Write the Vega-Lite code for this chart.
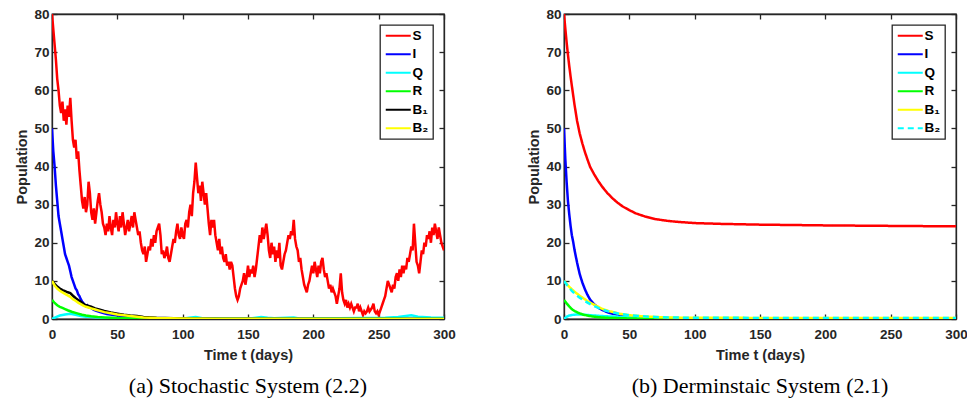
{
"$schema": "https://vega.github.io/schema/vega-lite/v6.json",
"background": "white",
"padding": {"left": 14, "top": 6, "right": 2, "bottom": 0},
"spacing": 120,
"bounds": "flush",
"config": {
  "view": {"stroke": "#262626", "strokeWidth": 1.3},
  "font": "Liberation Sans",
  "axis": {"grid": false, "labelFlush": false, "domainColor": "#262626", "domainWidth": 1.3, "tickColor": "#262626", "tickWidth": 1.3, "tickSize": -5,
    "labelFont": "Liberation Sans", "labelFontWeight": "bold", "labelFontSize": 13.5, "labelColor": "#262626",
    "titleFont": "Liberation Sans", "titleFontWeight": "bold", "titleFontSize": 14.5, "titleColor": "#262626"},
  "axisX": {"labelPadding": 13, "titlePadding": 8},
  "axisY": {"labelPadding": 8, "titlePadding": 4},
  "legend": {"orient": "top-right", "offset": 11, "strokeColor": "#262626", "strokeWidth": 1.3, "fillColor": "white", "padding": 4,
    "symbolType": "M-1,0H4", "symbolSize": 100, "symbolStrokeWidth": 2, "labelFont": "Liberation Sans", "labelFontWeight": "bold",
    "labelFontSize": 13.5, "labelColor": "#000000", "labelOffset": 15, "rowPadding": 3.5},
  "title": {"font": "Liberation Serif", "fontSize": 22, "fontWeight": "normal", "color": "#000000", "orient": "bottom", "offset": 14, "anchor": "middle"}
},
"datasets": {
"stoch": [
{"s":"S","t":0,"v":80},{"s":"S","t":1,"v":76},{"s":"S","t":2,"v":72},{"s":"S","t":3,"v":68},{"s":"S","t":4,"v":63},{"s":"S","t":5,"v":60},{"s":"S","t":6,"v":56},{"s":"S","t":7,"v":54},{"s":"S","t":8,"v":57},{"s":"S","t":9,"v":52},
{"s":"S","t":10,"v":55},{"s":"S","t":11,"v":51},{"s":"S","t":12,"v":56},{"s":"S","t":13,"v":53},{"s":"S","t":14,"v":58},{"s":"S","t":15,"v":52},{"s":"S","t":16,"v":47},{"s":"S","t":17,"v":45},{"s":"S","t":18,"v":47},{"s":"S","t":19,"v":42},
{"s":"S","t":20,"v":44},{"s":"S","t":21,"v":39},{"s":"S","t":22,"v":35},{"s":"S","t":23,"v":31},{"s":"S","t":24,"v":29},{"s":"S","t":25,"v":32},{"s":"S","t":26,"v":28},{"s":"S","t":27,"v":30},{"s":"S","t":28,"v":36},{"s":"S","t":29,"v":33},
{"s":"S","t":30,"v":28},{"s":"S","t":31,"v":26},{"s":"S","t":32,"v":29},{"s":"S","t":33,"v":25},{"s":"S","t":34,"v":28},{"s":"S","t":35,"v":31},{"s":"S","t":36,"v":33},{"s":"S","t":37,"v":30},{"s":"S","t":38,"v":28},{"s":"S","t":39,"v":25},
{"s":"S","t":40,"v":24},{"s":"S","t":41,"v":22},{"s":"S","t":42,"v":25},{"s":"S","t":43,"v":23},{"s":"S","t":44,"v":27},{"s":"S","t":45,"v":24},{"s":"S","t":46,"v":22},{"s":"S","t":47,"v":26},{"s":"S","t":48,"v":24},{"s":"S","t":49,"v":28},
{"s":"S","t":50,"v":25},{"s":"S","t":51,"v":23},{"s":"S","t":52,"v":27},{"s":"S","t":53,"v":24},{"s":"S","t":54,"v":28},{"s":"S","t":55,"v":25},{"s":"S","t":56,"v":22},{"s":"S","t":57,"v":24},{"s":"S","t":58,"v":26},{"s":"S","t":59,"v":23},
{"s":"S","t":60,"v":25},{"s":"S","t":61,"v":27},{"s":"S","t":62,"v":24},{"s":"S","t":63,"v":28},{"s":"S","t":64,"v":26},{"s":"S","t":65,"v":24},{"s":"S","t":66,"v":22},{"s":"S","t":67,"v":23},{"s":"S","t":68,"v":20},{"s":"S","t":69,"v":18},
{"s":"S","t":70,"v":17},{"s":"S","t":71,"v":19},{"s":"S","t":72,"v":15},{"s":"S","t":73,"v":17},{"s":"S","t":74,"v":19},{"s":"S","t":75,"v":18},{"s":"S","t":76,"v":21},{"s":"S","t":77,"v":19},{"s":"S","t":78,"v":22},{"s":"S","t":79,"v":20},
{"s":"S","t":80,"v":23},{"s":"S","t":81,"v":24},{"s":"S","t":82,"v":25},{"s":"S","t":83,"v":22},{"s":"S","t":84,"v":17},{"s":"S","t":85,"v":18},{"s":"S","t":86,"v":16},{"s":"S","t":87,"v":17},{"s":"S","t":88,"v":19},{"s":"S","t":89,"v":16},
{"s":"S","t":90,"v":15},{"s":"S","t":91,"v":17},{"s":"S","t":92,"v":19},{"s":"S","t":93,"v":21},{"s":"S","t":94,"v":20},{"s":"S","t":95,"v":23},{"s":"S","t":96,"v":25},{"s":"S","t":97,"v":22},{"s":"S","t":98,"v":21},{"s":"S","t":99,"v":24},
{"s":"S","t":100,"v":22},{"s":"S","t":101,"v":21},{"s":"S","t":102,"v":25},{"s":"S","t":103,"v":26},{"s":"S","t":104,"v":24},{"s":"S","t":105,"v":28},{"s":"S","t":106,"v":30},{"s":"S","t":107,"v":27},{"s":"S","t":108,"v":33},{"s":"S","t":109,"v":36},
{"s":"S","t":110,"v":41},{"s":"S","t":111,"v":37},{"s":"S","t":112,"v":33},{"s":"S","t":113,"v":35},{"s":"S","t":114,"v":31},{"s":"S","t":115,"v":36},{"s":"S","t":116,"v":33},{"s":"S","t":117,"v":30},{"s":"S","t":118,"v":33},{"s":"S","t":119,"v":29},
{"s":"S","t":120,"v":25},{"s":"S","t":121,"v":22},{"s":"S","t":122,"v":26},{"s":"S","t":123,"v":24},{"s":"S","t":124,"v":26},{"s":"S","t":125,"v":22},{"s":"S","t":126,"v":20},{"s":"S","t":127,"v":18},{"s":"S","t":128,"v":21},{"s":"S","t":129,"v":17},
{"s":"S","t":130,"v":19},{"s":"S","t":131,"v":16},{"s":"S","t":132,"v":15},{"s":"S","t":133,"v":17},{"s":"S","t":134,"v":14},{"s":"S","t":135,"v":15},{"s":"S","t":136,"v":13},{"s":"S","t":137,"v":15},{"s":"S","t":138,"v":14},{"s":"S","t":139,"v":11},
{"s":"S","t":140,"v":8},{"s":"S","t":141,"v":6},{"s":"S","t":142,"v":5},{"s":"S","t":143,"v":6},{"s":"S","t":144,"v":8},{"s":"S","t":145,"v":9},{"s":"S","t":146,"v":10},{"s":"S","t":147,"v":12},{"s":"S","t":148,"v":9},{"s":"S","t":149,"v":11},
{"s":"S","t":150,"v":14},{"s":"S","t":151,"v":11},{"s":"S","t":152,"v":13},{"s":"S","t":153,"v":12},{"s":"S","t":154,"v":14},{"s":"S","t":155,"v":11},{"s":"S","t":156,"v":13},{"s":"S","t":157,"v":16},{"s":"S","t":158,"v":19},{"s":"S","t":159,"v":22},
{"s":"S","t":160,"v":20},{"s":"S","t":161,"v":24},{"s":"S","t":162,"v":21},{"s":"S","t":163,"v":23},{"s":"S","t":164,"v":25},{"s":"S","t":165,"v":22},{"s":"S","t":166,"v":18},{"s":"S","t":167,"v":16},{"s":"S","t":168,"v":20},{"s":"S","t":169,"v":17},
{"s":"S","t":170,"v":19},{"s":"S","t":171,"v":15},{"s":"S","t":172,"v":18},{"s":"S","t":173,"v":16},{"s":"S","t":174,"v":20},{"s":"S","t":175,"v":14},{"s":"S","t":176,"v":13},{"s":"S","t":177,"v":15},{"s":"S","t":178,"v":17},{"s":"S","t":179,"v":18},
{"s":"S","t":180,"v":20},{"s":"S","t":181,"v":22},{"s":"S","t":182,"v":21},{"s":"S","t":183,"v":23},{"s":"S","t":184,"v":22},{"s":"S","t":185,"v":26},{"s":"S","t":186,"v":21},{"s":"S","t":187,"v":19},{"s":"S","t":188,"v":18},{"s":"S","t":189,"v":15},
{"s":"S","t":190,"v":16},{"s":"S","t":191,"v":13},{"s":"S","t":192,"v":11},{"s":"S","t":193,"v":9},{"s":"S","t":194,"v":8},{"s":"S","t":195,"v":7},{"s":"S","t":196,"v":9},{"s":"S","t":197,"v":10},{"s":"S","t":198,"v":12},{"s":"S","t":199,"v":14},
{"s":"S","t":200,"v":12},{"s":"S","t":201,"v":15},{"s":"S","t":202,"v":13},{"s":"S","t":203,"v":11},{"s":"S","t":204,"v":14},{"s":"S","t":205,"v":12},{"s":"S","t":206,"v":15},{"s":"S","t":207,"v":16},{"s":"S","t":208,"v":13},{"s":"S","t":209,"v":11},
{"s":"S","t":210,"v":12},{"s":"S","t":211,"v":10},{"s":"S","t":212,"v":8},{"s":"S","t":213,"v":9},{"s":"S","t":214,"v":7},{"s":"S","t":215,"v":8},{"s":"S","t":216,"v":7},{"s":"S","t":217,"v":6},{"s":"S","t":218,"v":4},{"s":"S","t":219,"v":6},
{"s":"S","t":220,"v":8},{"s":"S","t":221,"v":12},{"s":"S","t":222,"v":7},{"s":"S","t":223,"v":5},{"s":"S","t":224,"v":4},{"s":"S","t":225,"v":5},{"s":"S","t":226,"v":3},{"s":"S","t":227,"v":4},{"s":"S","t":228,"v":3},{"s":"S","t":229,"v":4},
{"s":"S","t":230,"v":3},{"s":"S","t":231,"v":2},{"s":"S","t":232,"v":3},{"s":"S","t":233,"v":3},{"s":"S","t":234,"v":4},{"s":"S","t":235,"v":2},{"s":"S","t":236,"v":3},{"s":"S","t":237,"v":2},{"s":"S","t":238,"v":1},{"s":"S","t":239,"v":2},
{"s":"S","t":240,"v":1.5},{"s":"S","t":241,"v":2},{"s":"S","t":242,"v":3},{"s":"S","t":243,"v":2},{"s":"S","t":244,"v":2.5},{"s":"S","t":245,"v":3},{"s":"S","t":246,"v":4},{"s":"S","t":247,"v":2},{"s":"S","t":248,"v":1.5},{"s":"S","t":249,"v":2},
{"s":"S","t":250,"v":1},{"s":"S","t":251,"v":2},{"s":"S","t":252,"v":3},{"s":"S","t":253,"v":4},{"s":"S","t":254,"v":5},{"s":"S","t":255,"v":6},{"s":"S","t":256,"v":8},{"s":"S","t":257,"v":10},{"s":"S","t":258,"v":9},{"s":"S","t":259,"v":8},
{"s":"S","t":260,"v":7},{"s":"S","t":261,"v":9},{"s":"S","t":262,"v":8},{"s":"S","t":263,"v":11},{"s":"S","t":264,"v":12},{"s":"S","t":265,"v":10},{"s":"S","t":266,"v":13},{"s":"S","t":267,"v":11},{"s":"S","t":268,"v":14},{"s":"S","t":269,"v":12},
{"s":"S","t":270,"v":14},{"s":"S","t":271,"v":13},{"s":"S","t":272,"v":16},{"s":"S","t":273,"v":15},{"s":"S","t":274,"v":17},{"s":"S","t":275,"v":19},{"s":"S","t":276,"v":18},{"s":"S","t":277,"v":25},{"s":"S","t":278,"v":20},{"s":"S","t":279,"v":15},
{"s":"S","t":280,"v":14},{"s":"S","t":281,"v":12},{"s":"S","t":282,"v":15},{"s":"S","t":283,"v":18},{"s":"S","t":284,"v":17},{"s":"S","t":285,"v":20},{"s":"S","t":286,"v":19},{"s":"S","t":287,"v":22},{"s":"S","t":288,"v":21},{"s":"S","t":289,"v":23},
{"s":"S","t":290,"v":20},{"s":"S","t":291,"v":24},{"s":"S","t":292,"v":22},{"s":"S","t":293,"v":25},{"s":"S","t":294,"v":23},{"s":"S","t":295,"v":21},{"s":"S","t":296,"v":24},{"s":"S","t":297,"v":22},{"s":"S","t":298,"v":20},{"s":"S","t":299,"v":19},
{"s":"S","t":300,"v":18},
{"s":"I","t":0,"v":50},{"s":"I","t":1,"v":44},{"s":"I","t":2,"v":40},{"s":"I","t":3,"v":35},{"s":"I","t":4,"v":31},{"s":"I","t":5,"v":27},{"s":"I","t":6,"v":25},{"s":"I","t":7,"v":23},{"s":"I","t":8,"v":21},{"s":"I","t":9,"v":19},
{"s":"I","t":10,"v":17},{"s":"I","t":11,"v":16},{"s":"I","t":12,"v":15},{"s":"I","t":13,"v":14},{"s":"I","t":14,"v":12.5},{"s":"I","t":15,"v":11},{"s":"I","t":16,"v":10},{"s":"I","t":17,"v":9},{"s":"I","t":18,"v":8},{"s":"I","t":19,"v":7.5},
{"s":"I","t":20,"v":6.5},{"s":"I","t":21,"v":6},{"s":"I","t":22,"v":5.2},{"s":"I","t":23,"v":4.6},{"s":"I","t":24,"v":4.2},{"s":"I","t":25,"v":3.6},{"s":"I","t":26,"v":3.3},{"s":"I","t":27,"v":3.6},{"s":"I","t":28,"v":3.1},{"s":"I","t":30,"v":2.9},
{"s":"I","t":32,"v":2.4},{"s":"I","t":35,"v":2.0},{"s":"I","t":38,"v":1.7},{"s":"I","t":42,"v":1.3},{"s":"I","t":46,"v":1.1},{"s":"I","t":50,"v":0.9},{"s":"I","t":55,"v":0.7},{"s":"I","t":60,"v":0.5},{"s":"I","t":70,"v":0.3},{"s":"I","t":80,"v":0.2},
{"s":"I","t":100,"v":0.1},{"s":"I","t":150,"v":0.05},{"s":"I","t":200,"v":0},{"s":"I","t":300,"v":0},
{"s":"Q","t":0,"v":0},{"s":"Q","t":3,"v":0.5},{"s":"Q","t":6,"v":0.9},{"s":"Q","t":10,"v":1.2},{"s":"Q","t":14,"v":1.4},{"s":"Q","t":18,"v":1.1},{"s":"Q","t":22,"v":0.8},{"s":"Q","t":26,"v":0.6},{"s":"Q","t":30,"v":0.5},{"s":"Q","t":35,"v":0.4},
{"s":"Q","t":40,"v":0.3},{"s":"Q","t":50,"v":0.2},{"s":"Q","t":60,"v":0.15},{"s":"Q","t":80,"v":0.1},{"s":"Q","t":100,"v":0.1},{"s":"Q","t":105,"v":0.3},{"s":"Q","t":110,"v":0.5},{"s":"Q","t":115,"v":0.2},{"s":"Q","t":150,"v":0.1},{"s":"Q","t":160,"v":0.5},
{"s":"Q","t":165,"v":0.3},{"s":"Q","t":170,"v":0.2},{"s":"Q","t":185,"v":0.4},{"s":"Q","t":190,"v":0.1},{"s":"Q","t":220,"v":0.2},{"s":"Q","t":255,"v":0.3},{"s":"Q","t":265,"v":0.5},{"s":"Q","t":275,"v":1.0},{"s":"Q","t":280,"v":0.6},{"s":"Q","t":290,"v":0.4},
{"s":"Q","t":300,"v":0.3},
{"s":"R","t":0,"v":5},{"s":"R","t":2,"v":4.2},{"s":"R","t":4,"v":3.6},{"s":"R","t":6,"v":3.2},{"s":"R","t":8,"v":2.9},{"s":"R","t":10,"v":2.6},{"s":"R","t":12,"v":2.3},{"s":"R","t":15,"v":1.9},{"s":"R","t":18,"v":1.6},{"s":"R","t":20,"v":1.4},
{"s":"R","t":23,"v":1.1},{"s":"R","t":26,"v":0.9},{"s":"R","t":30,"v":0.7},{"s":"R","t":35,"v":0.5},{"s":"R","t":40,"v":0.4},{"s":"R","t":50,"v":0.25},{"s":"R","t":60,"v":0.15},{"s":"R","t":80,"v":0.08},{"s":"R","t":120,"v":0.03},{"s":"R","t":300,"v":0},
{"s":"B₁","t":0,"v":10},{"s":"B₁","t":2,"v":9.2},{"s":"B₁","t":4,"v":8.5},{"s":"B₁","t":6,"v":8},{"s":"B₁","t":8,"v":7.6},{"s":"B₁","t":10,"v":7.3},{"s":"B₁","t":12,"v":7},{"s":"B₁","t":14,"v":6.8},{"s":"B₁","t":16,"v":6.1},{"s":"B₁","t":18,"v":5.5},
{"s":"B₁","t":20,"v":5},{"s":"B₁","t":22,"v":4.5},{"s":"B₁","t":24,"v":4},{"s":"B₁","t":26,"v":3.6},{"s":"B₁","t":28,"v":3.4},{"s":"B₁","t":30,"v":3.2},{"s":"B₁","t":33,"v":2.8},{"s":"B₁","t":36,"v":2.5},{"s":"B₁","t":40,"v":2.1},{"s":"B₁","t":45,"v":1.7},
{"s":"B₁","t":50,"v":1.4},{"s":"B₁","t":55,"v":1.1},{"s":"B₁","t":60,"v":0.9},{"s":"B₁","t":65,"v":0.8},{"s":"B₁","t":70,"v":0.5},{"s":"B₁","t":80,"v":0.3},{"s":"B₁","t":100,"v":0.15},{"s":"B₁","t":130,"v":0.05},{"s":"B₁","t":300,"v":0},
{"s":"B₂","t":0,"v":10},{"s":"B₂","t":2,"v":8.8},{"s":"B₂","t":4,"v":8},{"s":"B₂","t":6,"v":7.4},{"s":"B₂","t":8,"v":7},{"s":"B₂","t":10,"v":6.6},{"s":"B₂","t":12,"v":6.2},{"s":"B₂","t":14,"v":5.8},{"s":"B₂","t":16,"v":5.2},{"s":"B₂","t":18,"v":4.8},
{"s":"B₂","t":20,"v":4.3},{"s":"B₂","t":22,"v":3.9},{"s":"B₂","t":24,"v":3.5},{"s":"B₂","t":26,"v":3.2},{"s":"B₂","t":28,"v":3},{"s":"B₂","t":30,"v":2.8},{"s":"B₂","t":33,"v":2.5},{"s":"B₂","t":36,"v":2.2},{"s":"B₂","t":40,"v":1.8},{"s":"B₂","t":45,"v":1.5},
{"s":"B₂","t":50,"v":1.2},{"s":"B₂","t":55,"v":1},{"s":"B₂","t":60,"v":0.8},{"s":"B₂","t":65,"v":0.6},{"s":"B₂","t":70,"v":0.4},{"s":"B₂","t":80,"v":0.25},{"s":"B₂","t":100,"v":0.12},{"s":"B₂","t":125,"v":0.05},{"s":"B₂","t":300,"v":0}
],
"det": [
{"s":"S","t":0,"v":80},{"s":"S","t":1,"v":76.2},{"s":"S","t":2,"v":72.6},{"s":"S","t":3,"v":69.4},{"s":"S","t":4,"v":66.4},{"s":"S","t":5,"v":63.7},{"s":"S","t":6,"v":61.2},{"s":"S","t":8,"v":56.3},{"s":"S","t":10,"v":52},
{"s":"S","t":12,"v":48.7},{"s":"S","t":14,"v":46.1},{"s":"S","t":16,"v":43.8},{"s":"S","t":18,"v":41.8},{"s":"S","t":20,"v":39.9},{"s":"S","t":23,"v":38},{"s":"S","t":26,"v":36.3},{"s":"S","t":29,"v":34.8},{"s":"S","t":33,"v":33.1},
{"s":"S","t":37,"v":31.7},{"s":"S","t":41,"v":30.5},{"s":"S","t":45,"v":29.5},{"s":"S","t":50,"v":28.55},{"s":"S","t":55,"v":27.7},{"s":"S","t":62,"v":26.9},{"s":"S","t":70,"v":26.2},{"s":"S","t":80,"v":25.7},
{"s":"S","t":90,"v":25.4},{"s":"S","t":100,"v":25.16},{"s":"S","t":120,"v":24.95},{"s":"S","t":150,"v":24.75},{"s":"S","t":200,"v":24.55},{"s":"S","t":250,"v":24.42},{"s":"S","t":300,"v":24.3},
{"s":"I","t":0,"v":50},{"s":"I","t":1,"v":42},{"s":"I","t":2,"v":36},{"s":"I","t":3,"v":31},{"s":"I","t":4,"v":27.5},{"s":"I","t":5,"v":24.5},{"s":"I","t":6,"v":22},{"s":"I","t":7,"v":20.3},{"s":"I","t":8,"v":18.2},{"s":"I","t":10,"v":14.8},
{"s":"I","t":12,"v":11.8},{"s":"I","t":14,"v":9.6},{"s":"I","t":16,"v":7.8},{"s":"I","t":18,"v":6.3},{"s":"I","t":20,"v":5.1},{"s":"I","t":23,"v":3.9},{"s":"I","t":26,"v":3},{"s":"I","t":29,"v":2.4},{"s":"I","t":33,"v":1.8},{"s":"I","t":37,"v":1.4},
{"s":"I","t":42,"v":1.1},{"s":"I","t":50,"v":0.7},{"s":"I","t":60,"v":0.4},{"s":"I","t":75,"v":0.2},{"s":"I","t":100,"v":0.1},{"s":"I","t":150,"v":0.05},{"s":"I","t":300,"v":0},
{"s":"Q","t":0,"v":0},{"s":"Q","t":2,"v":0.6},{"s":"Q","t":4,"v":0.9},{"s":"Q","t":7,"v":1.1},{"s":"Q","t":10,"v":1.2},{"s":"Q","t":14,"v":1.15},{"s":"Q","t":20,"v":1},{"s":"Q","t":28,"v":0.8},{"s":"Q","t":36,"v":0.65},{"s":"Q","t":45,"v":0.5},
{"s":"Q","t":60,"v":0.35},{"s":"Q","t":80,"v":0.25},{"s":"Q","t":100,"v":0.2},{"s":"Q","t":150,"v":0.15},{"s":"Q","t":300,"v":0.12},
{"s":"R","t":0,"v":5},{"s":"R","t":2,"v":4.1},{"s":"R","t":4,"v":3.3},{"s":"R","t":6,"v":2.6},{"s":"R","t":8,"v":2.1},{"s":"R","t":11,"v":1.6},{"s":"R","t":15,"v":1.1},{"s":"R","t":21,"v":0.7},{"s":"R","t":27,"v":0.45},{"s":"R","t":34,"v":0.3},
{"s":"R","t":45,"v":0.18},{"s":"R","t":60,"v":0.1},{"s":"R","t":80,"v":0.05},{"s":"R","t":120,"v":0.02},{"s":"R","t":300,"v":0},
{"s":"B₁","t":0,"v":10},{"s":"B₁","t":3,"v":8.8},{"s":"B₁","t":6,"v":7.8},{"s":"B₁","t":9,"v":6.9},{"s":"B₁","t":12,"v":6.1},{"s":"B₁","t":15,"v":5.4},{"s":"B₁","t":18,"v":4.7},{"s":"B₁","t":21,"v":4.1},{"s":"B₁","t":25,"v":3.4},{"s":"B₁","t":29,"v":2.7},
{"s":"B₁","t":34,"v":2.1},{"s":"B₁","t":38,"v":1.8},{"s":"B₁","t":42,"v":1.4},{"s":"B₁","t":50,"v":1},{"s":"B₁","t":60,"v":0.7},{"s":"B₁","t":75,"v":0.45},{"s":"B₁","t":90,"v":0.35},{"s":"B₁","t":120,"v":0.3},{"s":"B₁","t":300,"v":0.25},
{"s":"B₂","t":0,"v":10},{"s":"B₂","t":3,"v":8.6},{"s":"B₂","t":6,"v":7.4},{"s":"B₂","t":9,"v":6.4},{"s":"B₂","t":12,"v":5.6},{"s":"B₂","t":15,"v":4.9},{"s":"B₂","t":18,"v":4.3},{"s":"B₂","t":21,"v":3.7},{"s":"B₂","t":25,"v":3.1},{"s":"B₂","t":29,"v":2.5},
{"s":"B₂","t":34,"v":2},{"s":"B₂","t":38,"v":1.7},{"s":"B₂","t":42,"v":1.4},{"s":"B₂","t":50,"v":1},{"s":"B₂","t":60,"v":0.7},{"s":"B₂","t":75,"v":0.45},{"s":"B₂","t":90,"v":0.35},{"s":"B₂","t":120,"v":0.3},{"s":"B₂","t":300,"v":0.25}
]
},
"hconcat": [
{
  "width": 392, "height": 305,
  "title": {"text": "(a) Stochastic System (2.2)"},
  "layer": [
    {
      "data": {"name": "stoch"},
      "mark": {"type": "line", "strokeWidth": 2.5, "clip": true},
      "encoding": {
        "x": {"field": "t", "type": "quantitative", "scale": {"domain": [0, 300], "nice": false}, "axis": {"title": "Time t (days)", "values": [0, 50, 100, 150, 200, 250, 300]}},
        "y": {"field": "v", "type": "quantitative", "scale": {"domain": [0, 80], "nice": false}, "axis": {"title": "Population", "values": [0, 10, 20, 30, 40, 50, 60, 70, 80]}},
        "color": {"field": "s", "type": "nominal", "scale": {"domain": ["S", "I", "Q", "R", "B₁", "B₂"], "range": ["#ff0000", "#0000ff", "#00ffff", "#00ff00", "#000000", "#ffff00"]}, "legend": {"title": null}}
      }
    },
    {
      "data": {"values": [{"t": 0, "v": 0}, {"t": 300, "v": 80}]},
      "mark": {"type": "point", "opacity": 0},
      "encoding": {
        "x": {"field": "t", "type": "quantitative", "axis": {"orient": "top", "labels": false, "title": null, "values": [0, 50, 100, 150, 200, 250, 300]}},
        "y": {"field": "v", "type": "quantitative", "axis": {"orient": "right", "labels": false, "title": null, "values": [0, 10, 20, 30, 40, 50, 60, 70, 80]}}
      }
    }
  ],
  "resolve": {"axis": {"x": "independent", "y": "independent"}}
},
{
  "width": 392, "height": 305,
  "title": {"text": "(b) Derminstaic System (2.1)"},
  "layer": [
    {
      "data": {"name": "det"},
      "mark": {"type": "line", "strokeWidth": 2.5, "clip": true},
      "encoding": {
        "x": {"field": "t", "type": "quantitative", "scale": {"domain": [0, 300], "nice": false}, "axis": {"title": "Time t (days)", "values": [0, 50, 100, 150, 200, 250, 300]}},
        "y": {"field": "v", "type": "quantitative", "scale": {"domain": [0, 80], "nice": false}, "axis": {"title": "Population", "values": [0, 10, 20, 30, 40, 50, 60, 70, 80]}},
        "color": {"field": "s", "type": "nominal", "scale": {"domain": ["S", "I", "Q", "R", "B₁", "B₂"], "range": ["#ff0000", "#0000ff", "#00ffff", "#00ff00", "#ffff00", "#00ffff"]}, "legend": {"title": null}},
        "strokeDash": {"field": "s", "type": "nominal", "scale": {"domain": ["S", "I", "Q", "R", "B₁", "B₂"], "range": [[1, 0], [1, 0], [1, 0], [1, 0], [1, 0], [6, 4]]}, "legend": {"title": null}}
      }
    },
    {
      "data": {"values": [{"t": 0, "v": 0}, {"t": 300, "v": 80}]},
      "mark": {"type": "point", "opacity": 0},
      "encoding": {
        "x": {"field": "t", "type": "quantitative", "axis": {"orient": "top", "labels": false, "title": null, "values": [0, 50, 100, 150, 200, 250, 300]}},
        "y": {"field": "v", "type": "quantitative", "axis": {"orient": "right", "labels": false, "title": null, "values": [0, 10, 20, 30, 40, 50, 60, 70, 80]}}
      }
    }
  ],
  "resolve": {"axis": {"x": "independent", "y": "independent"}}
}
],
"resolve": {"scale": {"color": "independent", "strokeDash": "independent"}, "legend": {"color": "independent", "strokeDash": "independent"}}
}
